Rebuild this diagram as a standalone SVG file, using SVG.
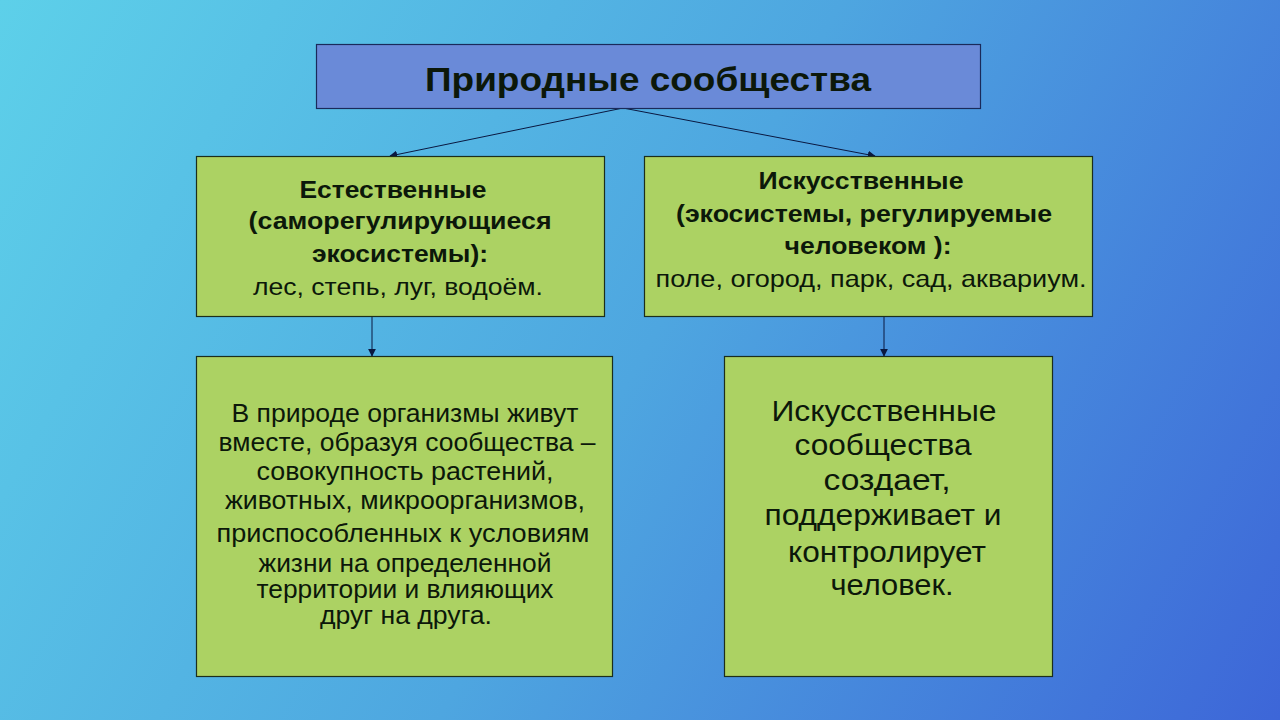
<svg xmlns="http://www.w3.org/2000/svg" width="1280" height="720" viewBox="0 0 1280 720">
<defs>
<linearGradient id="bg" x1="0" y1="0" x2="1280" y2="720" gradientUnits="userSpaceOnUse">
<stop offset="0" stop-color="#5dd0e9"/>
<stop offset="0.5" stop-color="#4ea6e0"/>
<stop offset="1" stop-color="#3d66d8"/>
</linearGradient>
<marker id="ah" viewBox="0 0 10 10" refX="9" refY="5" markerWidth="8" markerHeight="8" markerUnits="userSpaceOnUse" orient="auto">
<path d="M0,0 L10,5 L0,10 z" fill="#0a1840"/>
</marker>
<style>
.box{fill:#acd263;stroke:#1c2e1c;stroke-width:1.2}
.title{fill:#6a8ad8;stroke:#1a2a5a;stroke-width:1.2}
text{font-family:"Liberation Sans",Arial,sans-serif;fill:#0c180a;text-anchor:middle}
.b{font-weight:bold;font-size:24px}
.r{font-size:24px}
.c{font-size:25px}
.d{font-size:29px}
.conn{stroke:#0a1840;stroke-width:1;fill:none}
</style>
</defs>
<rect width="1280" height="720" fill="url(#bg)"/>
<g id="connectors">
<line class="conn" x1="623" y1="108" x2="390" y2="156" marker-end="url(#ah)"/>
<line class="conn" x1="623" y1="108" x2="875" y2="156" marker-end="url(#ah)"/>
<line class="conn" x1="372" y1="316" x2="372" y2="356" marker-end="url(#ah)"/>
<line class="conn" x1="884" y1="316" x2="884" y2="356" marker-end="url(#ah)"/>
</g>
<g id="node-title">
<rect class="title" x="316.5" y="44.5" width="664" height="64"/>
<text x="648" y="91" font-size="34" font-weight="bold" textLength="446" lengthAdjust="spacingAndGlyphs">Природные сообщества</text>
</g>
<g id="node-natural">
<rect class="box" x="196.5" y="156.5" width="408" height="160"/>
<text class="b" x="393" y="198" textLength="187" lengthAdjust="spacingAndGlyphs">Естественные</text>
<text class="b" x="400" y="229" textLength="303" lengthAdjust="spacingAndGlyphs">(саморегулирующиеся</text>
<text class="b" x="400" y="262" textLength="176" lengthAdjust="spacingAndGlyphs">экосистемы):</text>
<text class="r" x="398" y="295" textLength="290" lengthAdjust="spacingAndGlyphs">лес, степь, луг, водоём.</text>
</g>
<g id="node-artificial">
<rect class="box" x="644.5" y="156.5" width="448" height="160"/>
<text class="b" x="861" y="189" textLength="205" lengthAdjust="spacingAndGlyphs">Искусственные</text>
<text class="b" x="864" y="222" textLength="376" lengthAdjust="spacingAndGlyphs">(экосистемы, регулируемые</text>
<text class="b" x="868" y="254" textLength="167" lengthAdjust="spacingAndGlyphs">человеком ):</text>
<text class="r" x="871" y="287" textLength="431" lengthAdjust="spacingAndGlyphs">поле, огород, парк, сад, аквариум.</text>
</g>
<g id="node-natural-desc">
<rect class="box" x="196.5" y="356.5" width="416" height="320"/>
<text class="c" x="405" y="422" textLength="347" lengthAdjust="spacingAndGlyphs">В природе организмы живут</text>
<text class="c" x="407" y="451" textLength="377" lengthAdjust="spacingAndGlyphs">вместе, образуя сообщества –</text>
<text class="c" x="405" y="480" textLength="297" lengthAdjust="spacingAndGlyphs">совокупность растений,</text>
<text class="c" x="405" y="509" textLength="360" lengthAdjust="spacingAndGlyphs">животных, микроорганизмов,</text>
<text class="c" x="403" y="542" textLength="373" lengthAdjust="spacingAndGlyphs">приспособленных  к условиям</text>
<text class="c" x="405" y="572" textLength="293" lengthAdjust="spacingAndGlyphs">жизни на определенной</text>
<text class="c" x="405" y="598" textLength="297" lengthAdjust="spacingAndGlyphs">территории и влияющих</text>
<text class="c" x="406" y="624" textLength="172" lengthAdjust="spacingAndGlyphs">друг на друга.</text>
</g>
<g id="node-artificial-desc">
<rect class="box" x="724.5" y="356.5" width="328" height="320"/>
<text class="d" x="884" y="421" textLength="225" lengthAdjust="spacingAndGlyphs">Искусственные</text>
<text class="d" x="883" y="455" textLength="177" lengthAdjust="spacingAndGlyphs">сообщества</text>
<text class="d" x="887" y="490" textLength="127" lengthAdjust="spacingAndGlyphs">создает,</text>
<text class="d" x="883" y="525" textLength="237" lengthAdjust="spacingAndGlyphs">поддерживает и</text>
<text class="d" x="887" y="562" textLength="198" lengthAdjust="spacingAndGlyphs">контролирует</text>
<text class="d" x="892" y="595" textLength="123" lengthAdjust="spacingAndGlyphs">человек.</text>
</g>
</svg>
